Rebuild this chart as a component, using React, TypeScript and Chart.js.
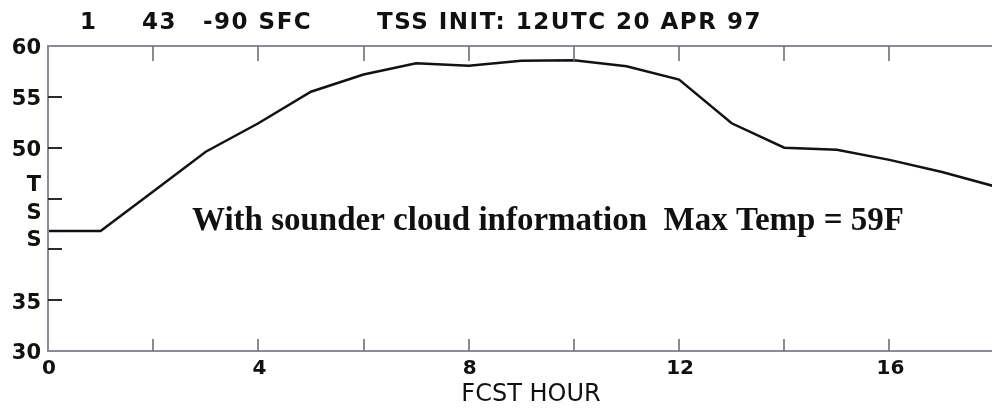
import React, { useEffect, useRef } from "react";
import { Chart, registerables } from "chart.js";

Chart.register(...registerables);

// Forecast hours and surface temperature (F)
const hours = [0, 1, 2, 3, 4, 5, 6, 7, 8, 9, 10, 11, 12, 13, 14, 15, 16, 17, 18];
const tss = [41.8, 41.8, 45.7, 49.6, 52.4, 55.5, 57.2, 58.3, 58.05, 58.55, 58.6, 58.0, 56.7, 52.4, 50.0, 49.8, 48.8, 47.6, 46.2];

// Axis ticks and labels
const yTickMarks = [35, 40, 45, 50, 55];
const yLabelValues = [30, 35, 50, 55, 60];
const yLabelTexts = ["30", "35", "50", "55", "60"];
const yTitleLetters = ["T", "S", "S"];
const xTickMarks = [2, 4, 6, 8, 10, 12, 14, 16, 18];
const xLabelValues = [0, 4, 8, 12, 16];
const xLabelTexts = ["0", "4", "8", "12", "16"];
const xTitle = "FCST HOUR";

// Header pieces: station, lat, lon/level, run info
const headerParts = ["1", "43", "-90 SFC", "TSS INIT: 12UTC 20 APR 97"];
const headerLefts = [80, 142, 203, 377];
const note = "With sounder cloud information  Max Temp = 59F";

const W = 992;
const H = 408;

const framePlugin = {
  id: "tssFrame",
  afterDatasetsDraw(chart: any) {
    const { ctx, chartArea, scales } = chart;
    const xs = scales.x;
    const ys = scales.y;
    const { left, top, bottom, right } = chartArea;
    ctx.save();

    // frame
    ctx.strokeStyle = "#8a8a9c";
    ctx.lineWidth = 2;
    ctx.beginPath();
    ctx.moveTo(right + 2, top);
    ctx.lineTo(left, top);
    ctx.lineTo(left, bottom);
    ctx.lineTo(right + 2, bottom);
    ctx.stroke();

    // inward x tick marks, top and bottom
    ctx.strokeStyle = "#6e6e78";
    ctx.lineWidth = 1.6;
    xTickMarks.forEach((v) => {
      const px = Math.round(xs.getPixelForValue(v));
      ctx.beginPath();
      ctx.moveTo(px, top);
      ctx.lineTo(px, top + 15);
      ctx.moveTo(px, bottom);
      ctx.lineTo(px, bottom - 12);
      ctx.stroke();
    });

    // inward y tick marks
    ctx.strokeStyle = "#2a2a30";
    ctx.lineWidth = 2;
    yTickMarks.forEach((v) => {
      const py = Math.round(ys.getPixelForValue(v));
      ctx.beginPath();
      ctx.moveTo(left, py);
      ctx.lineTo(left + 14, py);
      ctx.stroke();
    });

    ctx.fillStyle = "#111";
    ctx.textBaseline = "middle";

    // y labels
    ctx.font = "bold 21px 'DejaVu Sans'";
    ctx.textAlign = "right";
    yLabelValues.forEach((v, i) => {
      ctx.fillText(yLabelTexts[i], 41, ys.getPixelForValue(v) + 3);
    });

    // stacked axis title
    ctx.textAlign = "center";
    const titleYs = [ys.getPixelForValue(46.3), ys.getPixelForValue(43.5), ys.getPixelForValue(40.9)];
    yTitleLetters.forEach((t, i) => ctx.fillText(t, 34, titleYs[i]));

    // x labels
    ctx.font = "bold 20px 'DejaVu Sans'";
    xLabelValues.forEach((v, i) => {
      ctx.fillText(xLabelTexts[i], xs.getPixelForValue(v) + 1, bottom + 18);
    });

    ctx.font = "24px 'DejaVu Sans'";
    ctx.fillText(xTitle, 531, bottom + 44);

    // header line
    ctx.font = "bold 23px 'DejaVu Sans'";
    ctx.textAlign = "left";
    (ctx as any).letterSpacing = "1.5px";
    headerParts.forEach((t, i) => ctx.fillText(t, headerLefts[i], 23));
    (ctx as any).letterSpacing = "0px";

    // annotation
    ctx.font = "bold 33px 'Liberation Serif'";
    ctx.textBaseline = "alphabetic";
    ctx.fillText(note, 192, 230);

    ctx.restore();
  },
};

export default function App() {
  const ref = useRef<HTMLCanvasElement | null>(null);

  useEffect(() => {
    if (!ref.current) return;
    const chart = new Chart(ref.current, {
      type: "line",
      data: {
        datasets: [
          {
            data: hours.map((h, i) => ({ x: h, y: tss[i] })),
            borderColor: "#111118",
            borderWidth: 2.5,
            pointRadius: 0,
            tension: 0,
            fill: false,
          },
        ],
      },
      options: {
        animation: false,
        responsive: false,
        events: [],
        layout: { padding: { left: 48, top: 46, right: 0, bottom: 57 } },
        plugins: { legend: { display: false }, tooltip: { enabled: false } },
        scales: {
          x: { type: "linear", min: 0, max: 17.95, display: false },
          y: { type: "linear", min: 30, max: 60, display: false },
        },
      },
      plugins: [framePlugin],
    });
    return () => chart.destroy();
  }, []);

  return (
    <div style={{ position: "fixed", left: 0, top: 0, width: W, height: H, background: "#fff" }}>
      <canvas ref={ref} width={W} height={H} />
    </div>
  );
}
